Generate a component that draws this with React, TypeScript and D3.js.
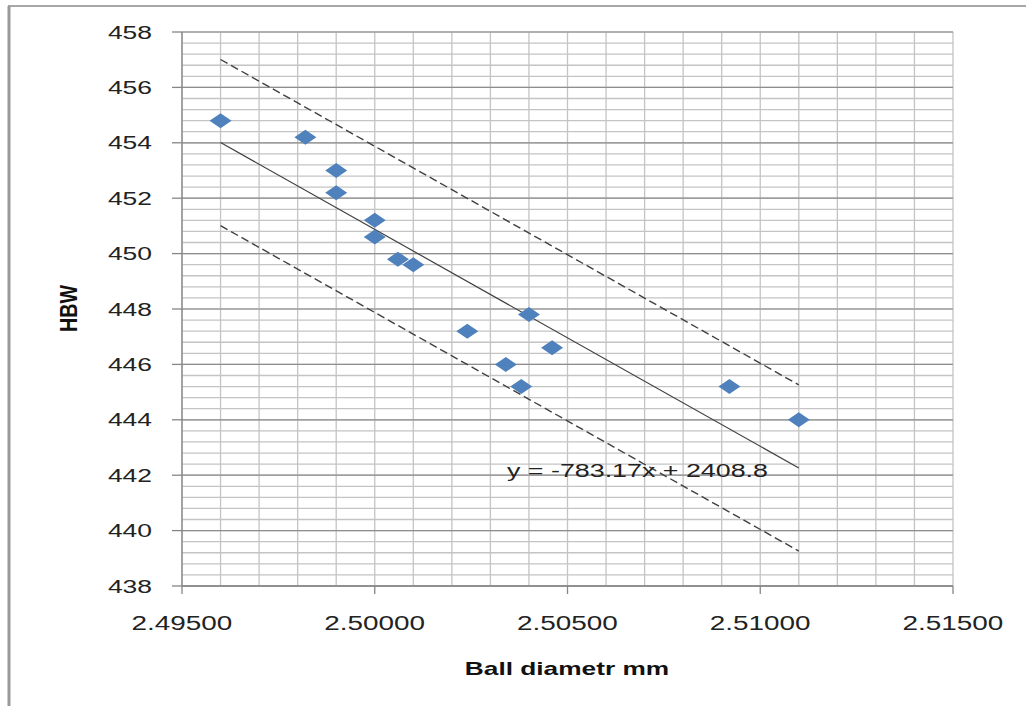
import React from 'react';
import * as d3 from 'd3';

// Ball diameter (mm) vs hardness HBW
const diameters = [2.4960, 2.4982, 2.4990, 2.4990, 2.5000, 2.5000, 2.5006, 2.5010, 2.5024, 2.5034, 2.5038, 2.5040, 2.5046, 2.5092, 2.5110];
const hardness = [454.8, 454.2, 453.0, 452.2, 451.2, 450.6, 449.8, 449.6, 447.2, 446.0, 445.2, 447.8, 446.6, 445.2, 444.0];

// linear trendline shown on the chart, with its +/- band
const trendSlope = -783.17;
const trendIntercept = 2408.8;
const trendRange = [2.496, 2.511];
const bandOffset = 3;

const xTicks = [2.495, 2.5, 2.505, 2.51, 2.515];
const yTicks = [438, 440, 442, 444, 446, 448, 450, 452, 454, 456, 458];

const W = 1026;
const H = 706;
const plot = { left: 182, right: 953, top: 32, bottom: 586 };
const FONT = '"Liberation Sans", Arial, sans-serif';
const SX = 1.43; // the picture is stretched horizontally

const App = () => {
    const x = d3.scaleLinear().domain([2.495, 2.515]).range([plot.left, plot.right]);
    const y = d3.scaleLinear().domain([438, 458]).range([plot.bottom, plot.top]);

    const xMinor = d3.range(0, 21).map(i => 2.495 + i * 0.001);
    const yMinor = d3.range(0, 51).map(i => 438 + i * 0.4);

    const fit = (v: number, off: number) => trendSlope * v + trendIntercept + off;
    const trendPath = (off: number) =>
        d3.line<number>().x(v => x(v)).y(v => y(fit(v, off)))(trendRange) || '';

    const points = diameters.map((d, i) => ({ d, h: hardness[i] }));

    return (
        <svg width={W} height={H} style={{ position: 'absolute', left: 0, top: 0, background: '#fff' }}>
            {/* outer frame */}
            <line x1={8} x2={W} y1={6} y2={6} stroke="#8a8a8a" strokeWidth={1.5} />
            <line x1={9} x2={9} y1={6} y2={H} stroke="#999" strokeWidth={3} />

            {/* minor gridlines */}
            {xMinor.map((v, i) => (
                <line key={'xm' + i} x1={x(v)} x2={x(v)} y1={plot.top} y2={plot.bottom} stroke="#c4c4c4" strokeWidth={1.3} />
            ))}
            {yMinor.map((v, i) => (
                <line key={'ym' + i} x1={plot.left} x2={plot.right} y1={y(v)} y2={y(v)} stroke="#c4c4c4" strokeWidth={1.3} />
            ))}
            {/* major horizontal gridlines */}
            {yTicks.map(t => (
                <line key={'yM' + t} x1={plot.left} x2={plot.right} y1={y(t)} y2={y(t)} stroke="#8e8e8e" strokeWidth={1.2} />
            ))}

            {/* axes */}
            <line x1={plot.left} x2={plot.left} y1={plot.top} y2={plot.bottom} stroke="#868686" strokeWidth={1.3} />
            <line x1={plot.left} x2={plot.right} y1={plot.bottom} y2={plot.bottom} stroke="#868686" strokeWidth={1.3} />
            {yTicks.map(t => (
                <line key={'yt' + t} x1={plot.left - 10} x2={plot.left} y1={y(t)} y2={y(t)} stroke="#868686" strokeWidth={1.3} />
            ))}
            {xTicks.map(t => (
                <line key={'xt' + t} x1={x(t)} x2={x(t)} y1={plot.bottom} y2={plot.bottom + 8} stroke="#868686" strokeWidth={1.3} />
            ))}

            {/* tick labels */}
            {yTicks.map(t => (
                <g key={'yl' + t} transform={`translate(152,${y(t) + 6.5}) scale(${SX},1)`}>
                    <text textAnchor="end" fontFamily={FONT} fontSize={18.5} fill="#222">{t}</text>
                </g>
            ))}
            {xTicks.map(t => (
                <g key={'xl' + t} transform={`translate(${x(t)},630) scale(${SX},1)`}>
                    <text textAnchor="middle" fontFamily={FONT} fontSize={19.5} fill="#222">{d3.format('.5f')(t)}</text>
                </g>
            ))}

            {/* trendline and band */}
            <path d={trendPath(0)} fill="none" stroke="#404040" strokeWidth={1.2} />
            <path d={trendPath(bandOffset)} fill="none" stroke="#404040" strokeWidth={1.4} strokeDasharray="8,4" />
            <path d={trendPath(-bandOffset)} fill="none" stroke="#404040" strokeWidth={1.4} strokeDasharray="8,4" />

            {/* data points */}
            {points.map((p, i) => {
                const cx = x(p.d);
                const cy = y(p.h);
                return (
                    <path key={'p' + i}
                        d={`M${cx},${cy - 7.5}L${cx + 11},${cy}L${cx},${cy + 7.5}L${cx - 11},${cy}Z`}
                        fill="#4F81BD" />
                );
            })}

            {/* equation */}
            <text x={507} y={477} fontFamily={FONT} fontSize={17.5} fill="#222"
                textLength={261} lengthAdjust="spacingAndGlyphs">y = -783.17x + 2408.8</text>

            {/* axis titles */}
            <g transform={`translate(567,675) scale(1.46,1)`}>
                <text textAnchor="middle" fontFamily={FONT} fontWeight="bold" fontSize={18} fill="#111">Ball diametr mm</text>
            </g>
            <g transform="translate(77,332) rotate(-90) scale(1,1.25)">
                <text x={0} y={0} fontFamily={FONT} fontWeight="bold" fontSize={18.5} fill="#111"
                    textLength={47} lengthAdjust="spacingAndGlyphs">HBW</text>
            </g>
        </svg>
    );
};

export default App;
